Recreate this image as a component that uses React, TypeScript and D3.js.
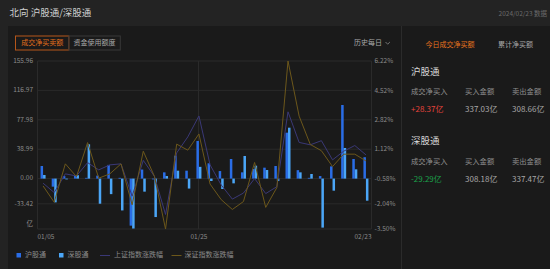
import React from "react";
import * as d3 from "d3";

const dates = [
  "01/05", "01/08", "01/09", "01/10", "01/11", "01/12",
  "01/15", "01/16", "01/17", "01/18", "01/19",
  "01/22", "01/23", "01/24", "01/25", "01/26",
  "01/29", "01/30", "01/31", "02/01", "02/02",
  "02/05", "02/06", "02/07", "02/08",
  "02/19", "02/20", "02/21", "02/22", "02/23",
];
// 沪股通 net buy (亿)
const shValues = [16.7, -10.7, 3.4, 4, 1, 3.9, 18.2, 1, -62.4, 12, -1, 8.3, 30.4, 10.5, 49.9, 20.3, 10, 26, 8.3, 12.7, 14.5, 16.7, 60.9, 11.2, 1, 3.4, 16.2, 97.6, 26, 28.37];
// 深股通 net buy (亿)
const szValues = [4.8, -31.5, -1, 4.5, 45.5, -33.3, -20.6, -42.2, -66.2, -17.3, -51, 3.4, 10.5, -13.2, 15.6, -3.2, -13.8, -6.3, 30, 17.1, 11.4, -3.2, 67.5, 8.3, 6.1, -65, -16, 40.6, 12.3, -29.29];
// 上证指数涨跌幅 (%)
const shIndexPct = [-0.85, -1.39, -0.31, -0.43, 0.34, -0.08, 0.21, 0.27, -1.6, 0.47, -0.45, -2.66, 0.9, 1.83, 3.04, 0.21, -0.95, -1.77, -1.42, -0.58, -1.45, -1.05, 3.28, 1.51, 1.37, 1.61, 0.5, 1.0, 1.33, 0.79];
// 深证指数涨跌幅 (%)
const szIndexPct = [-1.01, -1.95, 0.27, -0.47, 1.5, -0.56, -0.31, 0.27, -2.1, 1.0, -0.45, -3.5, 1.41, 1.06, 2.0, -0.9, -1.8, -2.37, -1.91, 0.35, -2.25, -1.1, 6.22, 3.03, 1.39, 1.03, 0.11, 0.83, 0.83, 0.44];

const leftTickValues = [155.96, 116.97, 77.98, 38.99, 0, -33.42, -66.84];
const leftTickLabels = ["155.96", "116.97", "77.98", "38.99", "0.00", "-33.42", "亿"];
const rightTickValues = [6.22, 4.52, 2.82, 1.12, -0.58, -2.04, -3.5];
const rightTickLabels = ["6.22%", "4.52%", "2.82%", "1.12%", "-0.58%", "-2.04%", "-3.50%"];
const xTickLabels = ["01/05", "01/25", "02/23"];

const seriesNames = ["沪股通", "深股通"];
const lineNames = ["上证指数涨跌幅", "深证指数涨跌幅"];

const W = 550;
const H = 269;
const FONT = "'Noto Sans CJK SC', 'Noto Sans', sans-serif";

const C_SH = "#2a6de6";
const C_SZ = "#4ba6f7";
const C_LSH = "#3a3876";
const C_LSZ = "#6c571a";
const GRID = "#2a2a2a";
const AXIS_TEXT = "#8a8a8a";

export default function App() {
  const plot = { left: 37.5, right: 371.5, top: 61, bottom: 229 };

  const x = d3.scaleBand<string>().domain(dates).range([plot.left, plot.right]).paddingInner(0.55).paddingOuter(0.275);
  const x1 = d3.scaleBand<string>().domain(seriesNames).range([0, x.bandwidth()]);
  const yL = d3.scaleLinear().domain([-66.84, 155.96]).range([plot.bottom, plot.top]);
  const yR = d3.scaleLinear().domain([-3.5, 6.22]).range([plot.bottom, plot.top]);

  const cx = (d: string) => (x(d) as number) + x.bandwidth() / 2;

  const lineGen = d3
    .line<number>()
    .x((_, i) => cx(dates[i]))
    .y((v) => yR(v));

  const barData = [shValues, szValues];
  const barColors = [C_SH, C_SZ];

  const xTickPos = (lbl: string) => cx(lbl);

  return (
    <div style={{ position: "fixed", left: 0, top: 0, width: W, height: H }}>
      <svg width={W} height={H} style={{ display: "block", fontFamily: FONT }}>
        <rect x={0} y={0} width={W} height={H} fill="#232323" />
        <rect x={8} y={26} width={W - 8} height={H - 26} fill="#1a1a1a" />
        <line x1={401.5} x2={401.5} y1={26} y2={H} stroke="#2b2b2b" />

        {/* header */}
        <text x={9.5} y={13.5} fill="#cfcfcf" fontSize={9.5} dominantBaseline="middle">北向 沪股通/深股通</text>
        <text x={547} y={14} fill="#6a6a6a" fontSize={6.5} textAnchor="end" dominantBaseline="middle">2024/02/23 数据</text>

        {/* tabs */}
        <rect x={15.5} y={36} width={53.3} height={14} fill="none" stroke="#b5561a" strokeWidth={1} />
        <text x={42.2} y={43.3} fill="#e26f1d" fontSize={7} textAnchor="middle" dominantBaseline="middle">成交净买卖额</text>
        <rect x={68.8} y={36} width={51.5} height={14} fill="none" stroke="#383838" strokeWidth={1} />
        <text x={94.5} y={43.3} fill="#a8a8a8" fontSize={7} textAnchor="middle" dominantBaseline="middle">资金使用额度</text>
        <text x={354} y={43.3} fill="#a8a8a8" fontSize={7} dominantBaseline="middle">历史每日</text>
        <path d="M385.5,42 L387.7,44.2 L389.9,42" fill="none" stroke="#8a8a8a" strokeWidth={0.8} />

        {/* grid */}
        {leftTickValues.map((v, i) => (
          <line key={"g" + i} x1={plot.left} x2={plot.right} y1={yL(v)} y2={yL(v)} stroke={GRID} strokeWidth={1} />
        ))}
        <line x1={plot.left} x2={plot.left} y1={plot.top} y2={plot.bottom} stroke={GRID} />
        <line x1={plot.right} x2={plot.right} y1={plot.top} y2={plot.bottom} stroke={GRID} />
        <line x1={Math.round(xTickPos("01/25")) - 0.5} x2={Math.round(xTickPos("01/25")) - 0.5} y1={plot.top} y2={plot.bottom} stroke={GRID} />

        {/* axis labels */}
        {leftTickValues.map((v, i) => (
          <text key={"l" + i} x={33} y={i === leftTickValues.length - 1 ? yL(v) - 5 : yL(v)} fill={AXIS_TEXT} fontSize={6.5} textAnchor="end" dominantBaseline="middle">
            {leftTickLabels[i]}
          </text>
        ))}
        {rightTickValues.map((v, i) => (
          <text key={"r" + i} x={374.5} y={yR(v) + 0.5} fill={AXIS_TEXT} fontSize={6.5} dominantBaseline="middle">
            {rightTickLabels[i]}
          </text>
        ))}
        {xTickLabels.map((lbl, i) => (
          <text
            key={"x" + i}
            x={i === 0 ? plot.left : i === xTickLabels.length - 1 ? plot.right : xTickPos(lbl)}
            y={237.5}
            fill={AXIS_TEXT}
            fontSize={6.5}
            textAnchor={i === 0 ? "start" : i === xTickLabels.length - 1 ? "end" : "middle"}
            dominantBaseline="middle"
          >
            {lbl}
          </text>
        ))}

        {/* bars */}
        {barData.map((vals, s) => (
          <g key={"s" + s}>
            {vals.map((v, i) => {
              const bx = (x(dates[i]) as number) + (x1(seriesNames[s]) as number);
              const y0 = yL(0);
              const y1v = yL(v);
              return (
                <rect
                  key={i}
                  x={bx}
                  y={Math.min(y0, y1v)}
                  width={x1.bandwidth()}
                  height={Math.max(0.8, Math.abs(y1v - y0))}
                  fill={barColors[s]}
                />
              );
            })}
          </g>
        ))}

        {/* lines */}
        <path d={lineGen(shIndexPct) || ""} fill="none" stroke={C_LSH} strokeWidth={1} />
        <path d={lineGen(szIndexPct) || ""} fill="none" stroke={C_LSZ} strokeWidth={1} />

        {/* legend */}
        <rect x={16.5} y={253} width={4.5} height={4.5} fill={C_SH} />
        <text x={25} y={255.5} fill={AXIS_TEXT} fontSize={7} dominantBaseline="middle">{seriesNames[0]}</text>
        <rect x={59} y={253} width={4.5} height={4.5} fill={C_SZ} />
        <text x={67.5} y={255.5} fill={AXIS_TEXT} fontSize={7} dominantBaseline="middle">{seriesNames[1]}</text>
        <line x1={100} x2={110} y1={255.5} y2={255.5} stroke={C_LSH} strokeWidth={1} />
        <text x={114} y={255.5} fill={AXIS_TEXT} fontSize={7} dominantBaseline="middle">{lineNames[0]}</text>
        <line x1={171.5} x2={181.5} y1={255.5} y2={255.5} stroke={C_LSZ} strokeWidth={1} />
        <text x={184.5} y={255.5} fill={AXIS_TEXT} fontSize={7} dominantBaseline="middle">{lineNames[1]}</text>

        {/* right panel */}
        <text x={425.5} y={45} fill="#e8731f" fontSize={7} dominantBaseline="middle">今日成交净买额</text>
        <text x={498} y={45} fill="#a8a8a8" fontSize={7} dominantBaseline="middle">累计净买额</text>

        <text x={411} y={72} fill="#d8d8d8" fontSize={9.5} dominantBaseline="middle">沪股通</text>
        <text x={411} y={92.5} fill="#8f8f8f" fontSize={7.3} dominantBaseline="middle">成交净买入</text>
        <text x={465} y={92.5} fill="#8f8f8f" fontSize={7.3} dominantBaseline="middle">买入金额</text>
        <text x={512} y={92.5} fill="#8f8f8f" fontSize={7.3} dominantBaseline="middle">卖出金额</text>
        <text x={411} y={109.5} fill="#e5443c" fontSize={8} dominantBaseline="middle">+28.37亿</text>
        <text x={465} y={109.5} fill="#a8a8a8" fontSize={8} dominantBaseline="middle">337.03亿</text>
        <text x={512} y={109.5} fill="#a8a8a8" fontSize={8} dominantBaseline="middle">308.66亿</text>

        <text x={411} y={141} fill="#d8d8d8" fontSize={9.5} dominantBaseline="middle">深股通</text>
        <text x={411} y={162.5} fill="#8f8f8f" fontSize={7.3} dominantBaseline="middle">成交净买入</text>
        <text x={465} y={162.5} fill="#8f8f8f" fontSize={7.3} dominantBaseline="middle">买入金额</text>
        <text x={512} y={162.5} fill="#8f8f8f" fontSize={7.3} dominantBaseline="middle">卖出金额</text>
        <text x={411} y={179.5} fill="#1aa04a" fontSize={8} dominantBaseline="middle">-29.29亿</text>
        <text x={465} y={179.5} fill="#a8a8a8" fontSize={8} dominantBaseline="middle">308.18亿</text>
        <text x={512} y={179.5} fill="#a8a8a8" fontSize={8} dominantBaseline="middle">337.47亿</text>
      </svg>
    </div>
  );
}
